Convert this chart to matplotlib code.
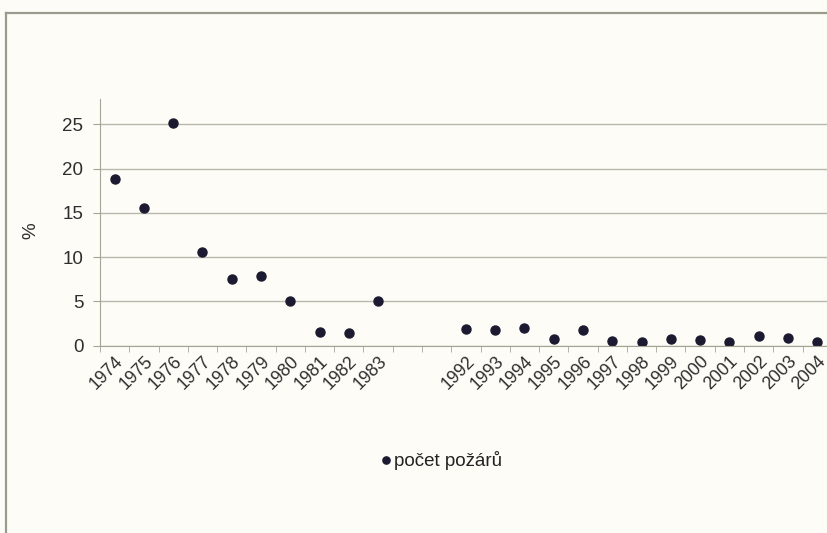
import matplotlib
matplotlib.use("Agg")
import matplotlib.pyplot as plt
from matplotlib.lines import Line2D

years = ["1974", "1975", "1976", "1977", "1978", "1979", "1980", "1981", "1982", "1983",
         "", "",
         "1992", "1993", "1994", "1995", "1996", "1997", "1998", "1999", "2000",
         "2001", "2002", "2003", "2004"]
fires = [18.8, 15.5, 25.1, 10.6, 7.5, 7.9, 5.1, 1.5, 1.4, 5.0,
         None, None,
         1.9, 1.8, 2.0, 0.75, 1.8, 0.5, 0.4, 0.7, 0.6, 0.4, 1.1, 0.9, 0.4]
yticks = [0, 5, 10, 15, 20, 25]

BG = "#fdfcf6"
LINE = "#a3a396"
DOT = "#1c1a30"
TXT = "#2e2e2e"

plt.rcParams["font.family"] = ["Liberation Sans", "DejaVu Sans"]

fig = plt.figure(figsize=(8.28, 5.33), dpi=100, facecolor=BG)
ax = fig.add_axes([100 / 828, 1 - 345.7 / 533, 731.8 / 828, (345.7 - 99) / 533])
ax.set_facecolor(BG)

xs = [i for i, v in enumerate(fires) if v is not None]
ys = [v for v in fires if v is not None]
ax.plot(xs, ys, ls="none", marker="o", ms=6.5, color=DOT, label="počet požárů")

ax.set_xlim(-0.5, len(years) - 0.5)
ax.set_ylim(0, 27.85)
ax.set_yticks(yticks)
ax.tick_params(axis="y", length=5, color=LINE, labelsize=13.5, labelcolor=TXT, pad=7)
ax.grid(True, axis="y", color="#b8b8ac", lw=1.0)

# category labels centred, tick marks on category boundaries
ax.set_xticks(range(len(years)))
ax.set_xticklabels(years, rotation=45, ha="right", rotation_mode="anchor",
                   fontsize=12.8, color=TXT)
ax.tick_params(axis="x", length=0, pad=5)
ax.set_xticks([i - 0.5 for i in range(len(years) + 1)], minor=True)
ax.tick_params(axis="x", which="minor", length=4, color=LINE)

for s in ["top", "right"]:
    ax.spines[s].set_visible(False)
ax.spines["left"].set_color(LINE)
ax.spines["bottom"].set_color(LINE)

fig.text(31 / 828, 1 - 231 / 533, "%", rotation=90, ha="center", va="center",
         fontsize=13.5, color=TXT)

fig.legend(loc="center", bbox_to_anchor=(441 / 828, 1 - 461 / 533), frameon=False,
           fontsize=13.5, handlelength=0.6, handletextpad=0.15, markerscale=0.8,
           labelcolor="#222222")

# outer chart frame (left and top edges visible in the crop)
fig.add_artist(Line2D([6 / 828, 6 / 828], [0, 1 - 13 / 533], transform=fig.transFigure,
                      color="#9a9a8e", lw=1.6))
fig.add_artist(Line2D([6 / 828, 1], [1 - 13 / 533, 1 - 13 / 533], transform=fig.transFigure,
                      color="#9a9a8e", lw=1.6))

fig.savefig("out.png", dpi=100, facecolor=BG)
